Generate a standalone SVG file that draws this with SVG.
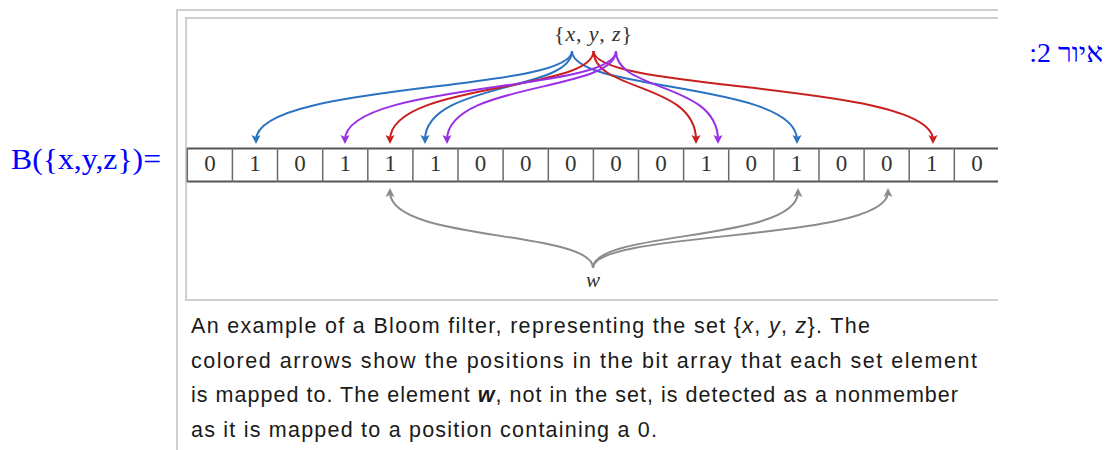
<svg xmlns="http://www.w3.org/2000/svg" width="1107" height="450" viewBox="0 0 1107 450">
<style>
.frame{fill:none;stroke:#cfcfcf;stroke-width:2}
.cellline{stroke:#6a6a6a;stroke-width:1.5}
.arrline{stroke:#555;stroke-width:2}
.bit{font-family:"Liberation Serif","DejaVu Serif",serif;font-size:23px;fill:#333;text-anchor:middle}
.math{font-family:"Liberation Serif","DejaVu Serif",serif;fill:#333;text-anchor:middle}
.cap{font-family:"Liberation Sans","DejaVu Sans",sans-serif;font-size:21.5px;fill:#1a1a1a}
.blue-t{font-family:"Liberation Serif","DejaVu Serif",serif;fill:#0000ff}
.c{fill:none;stroke-width:2}
.cb{stroke:#2a72c2}
.cr{stroke:#c8201e}
.cp{stroke:#9a30e6}
.cg{stroke:#8c8c8c}
</style>
<defs>
<marker id="ab" viewBox="-6 -6 12 12" markerWidth="12" markerHeight="12" markerUnits="userSpaceOnUse" refX="0" refY="0" orient="auto" overflow="visible"><path d="M4,0 L-5,-4.5 L-3,0 L-5,4.5 z" fill="#2a72c2"/></marker>
<marker id="ar" viewBox="-6 -6 12 12" markerWidth="12" markerHeight="12" markerUnits="userSpaceOnUse" refX="0" refY="0" orient="auto" overflow="visible"><path d="M4,0 L-5,-4.5 L-3,0 L-5,4.5 z" fill="#c8201e"/></marker>
<marker id="ap" viewBox="-6 -6 12 12" markerWidth="12" markerHeight="12" markerUnits="userSpaceOnUse" refX="0" refY="0" orient="auto" overflow="visible"><path d="M4,0 L-5,-4.5 L-3,0 L-5,4.5 z" fill="#9a30e6"/></marker>
<marker id="ag" viewBox="-6 -6 12 12" markerWidth="12" markerHeight="12" markerUnits="userSpaceOnUse" refX="0" refY="0" orient="auto" overflow="visible"><path d="M4,0 L-5,-4.5 L-3,0 L-5,4.5 z" fill="#8c8c8c"/></marker>
</defs>
<rect width="1107" height="450" fill="#fff"/>

<!-- frames -->
<g id="frame">
<path class="frame" d="M177,450 L177,10 L998,10"/>
<path class="frame" d="M998,18 L186,18 L186,300 L998,300"/>
</g>

<!-- labels outside -->
<g id="label-left"><text class="blue-t" x="11" y="168.5" font-size="30" textLength="150" lengthAdjust="spacingAndGlyphs">B({x,y,z})=</text></g>
<g id="label-right"><text class="blue-t" x="1103" y="61.5" font-size="28" direction="rtl" text-anchor="start">איור 2:</text></g>

<!-- bit array -->
<g id="bit-array">
<line class="arrline" x1="187" y1="148.5" x2="998" y2="148.5"/>
<line class="arrline" x1="187" y1="181.5" x2="998" y2="181.5"/>
<g id="cell-0"><line class="cellline" x1="187.3" y1="148" x2="187.3" y2="182"/><text class="bit" x="209.9" y="171">0</text></g>
<g id="cell-1"><line class="cellline" x1="232.4" y1="148" x2="232.4" y2="182"/><text class="bit" x="255" y="171">1</text></g>
<g id="cell-2"><line class="cellline" x1="277.5" y1="148" x2="277.5" y2="182"/><text class="bit" x="300.1" y="171">0</text></g>
<g id="cell-3"><line class="cellline" x1="322.7" y1="148" x2="322.7" y2="182"/><text class="bit" x="345.2" y="171">1</text></g>
<g id="cell-4"><line class="cellline" x1="367.8" y1="148" x2="367.8" y2="182"/><text class="bit" x="390.3" y="171">1</text></g>
<g id="cell-5"><line class="cellline" x1="412.9" y1="148" x2="412.9" y2="182"/><text class="bit" x="435.5" y="171">1</text></g>
<g id="cell-6"><line class="cellline" x1="458" y1="148" x2="458" y2="182"/><text class="bit" x="480.6" y="171">0</text></g>
<g id="cell-7"><line class="cellline" x1="503.1" y1="148" x2="503.1" y2="182"/><text class="bit" x="525.7" y="171">0</text></g>
<g id="cell-8"><line class="cellline" x1="548.3" y1="148" x2="548.3" y2="182"/><text class="bit" x="570.8" y="171">0</text></g>
<g id="cell-9"><line class="cellline" x1="593.4" y1="148" x2="593.4" y2="182"/><text class="bit" x="615.9" y="171">0</text></g>
<g id="cell-10"><line class="cellline" x1="638.5" y1="148" x2="638.5" y2="182"/><text class="bit" x="661.1" y="171">0</text></g>
<g id="cell-11"><line class="cellline" x1="683.6" y1="148" x2="683.6" y2="182"/><text class="bit" x="706.2" y="171">1</text></g>
<g id="cell-12"><line class="cellline" x1="728.7" y1="148" x2="728.7" y2="182"/><text class="bit" x="751.3" y="171">0</text></g>
<g id="cell-13"><line class="cellline" x1="773.9" y1="148" x2="773.9" y2="182"/><text class="bit" x="796.4" y="171">1</text></g>
<g id="cell-14"><line class="cellline" x1="819" y1="148" x2="819" y2="182"/><text class="bit" x="841.5" y="171">0</text></g>
<g id="cell-15"><line class="cellline" x1="864.1" y1="148" x2="864.1" y2="182"/><text class="bit" x="886.7" y="171">0</text></g>
<g id="cell-16"><line class="cellline" x1="909.2" y1="148" x2="909.2" y2="182"/><text class="bit" x="931.8" y="171">1</text></g>
<g id="cell-17"><line class="cellline" x1="954.3" y1="148" x2="954.3" y2="182"/><text class="bit" x="976.9" y="171">0</text></g>
</g>

<!-- set and element -->
<g id="set-xyz"><text class="math" x="593" y="41" font-size="22" textLength="78" lengthAdjust="spacing">{<tspan font-style="italic">x</tspan>, <tspan font-style="italic">y</tspan>, <tspan font-style="italic">z</tspan>}</text></g>
<g id="elem-w"><text class="math" x="593" y="287" font-size="21" font-style="italic" fill="#333">w</text></g>

<!-- connectors -->
<g id="connectors">
<path class="c cb" marker-end="url(#ab)" d="M572,51 C572,92 256,82 256,140"/>
<path class="c cb" marker-end="url(#ab)" d="M572,51 C572,92 425,82 425,140"/>
<path class="c cb" marker-end="url(#ab)" d="M572,51 C572,92 797,82 797,140"/>
<path class="c cr" marker-end="url(#ar)" d="M593.5,51 C593.5,92 390,82 390,140"/>
<path class="c cr" marker-end="url(#ar)" d="M593.5,51 C593.5,92 696,82 696,140"/>
<path class="c cr" marker-end="url(#ar)" d="M593.5,51 C593.5,92 933,82 933,140"/>
<path class="c cp" marker-end="url(#ap)" d="M616,51 C616,92 345,82 345,140"/>
<path class="c cp" marker-end="url(#ap)" d="M616,51 C616,92 447,82 447,140"/>
<path class="c cp" marker-end="url(#ap)" d="M616,51 C616,92 718,82 718,140"/>
<path class="c cg" marker-end="url(#ag)" d="M593,268 C593,230 390,242 390,192"/>
<path class="c cg" marker-end="url(#ag)" d="M593,268 C593,230 798,242 798,192"/>
<path class="c cg" marker-end="url(#ag)" d="M593,268 C593,230 888,242 888,192"/>
</g>

<!-- caption -->
<g id="caption">
<text class="cap" x="191" y="333" textLength="679" lengthAdjust="spacing">An example of a Bloom filter, representing the set {<tspan font-style="italic">x</tspan>, <tspan font-style="italic">y</tspan>, <tspan font-style="italic">z</tspan>}. The</text>
<text class="cap" x="191" y="368" textLength="786" lengthAdjust="spacing">colored arrows show the positions in the bit array that each set element</text>
<text class="cap" x="191" y="402" textLength="767" lengthAdjust="spacing">is mapped to. The element <tspan font-style="italic" font-weight="bold">w</tspan>, not in the set, is detected as a nonmember</text>
<text class="cap" x="191" y="437" textLength="466" lengthAdjust="spacing">as it is mapped to a position containing a 0.</text>
</g>
</svg>
